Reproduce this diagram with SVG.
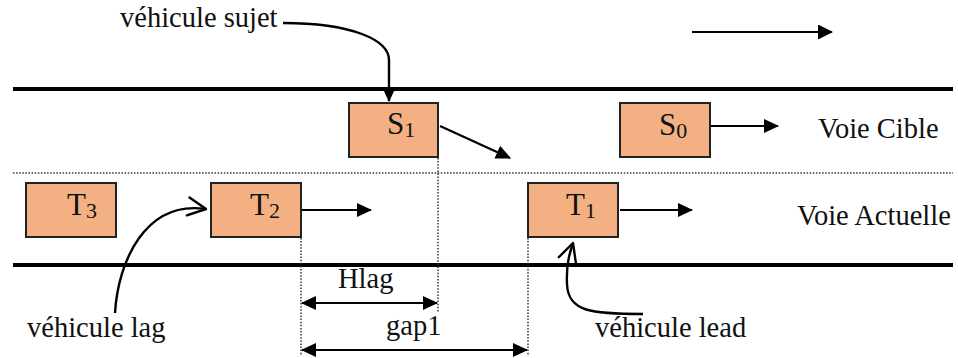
<svg xmlns="http://www.w3.org/2000/svg" width="958" height="358" viewBox="0 0 958 358">
  <style>
    text { font-family: "Liberation Serif", "Times New Roman", serif; fill: #111; }
    .lbl { font-size: 28.5px; }
    .veh { font-size: 31px; }
    .sub { font-size: 22px; }
    .box { fill: #F3B083; stroke: #222; stroke-width: 2; }
    .road { stroke: #000; stroke-width: 4; fill: none; }
    .dot { stroke: #333; stroke-width: 1.5; stroke-dasharray: 1.5 1.6; fill: none; }
    .arr { stroke: #000; stroke-width: 2.2; fill: none; }
    .curve { stroke: #000; stroke-width: 2.4; fill: none; }
  </style>
  <defs>
    <marker id="head" markerUnits="userSpaceOnUse" markerWidth="16" markerHeight="14" refX="14" refY="7" orient="auto-start-reverse">
      <path d="M0,0 L15,7 L0,14 z" fill="#000"/>
    </marker>
    <marker id="headBig" markerUnits="userSpaceOnUse" markerWidth="16" markerHeight="16" refX="14" refY="7.5" orient="auto">
      <path d="M0,0 L15,7.5 L0,15 z" fill="#000"/>
    </marker>
    <marker id="headDown" markerUnits="userSpaceOnUse" markerWidth="16" markerHeight="14" refX="13" refY="6.5" orient="auto">
      <path d="M0,0 L14,6.5 L0,13 z" fill="#000"/>
    </marker>
    <marker id="open" markerUnits="userSpaceOnUse" markerWidth="24" markerHeight="24" refX="20" refY="11" orient="auto">
      <path d="M2,2 L20,11 L2,20" fill="none" stroke="#000" stroke-width="2.4" stroke-linecap="round" stroke-linejoin="round"/>
    </marker>
  </defs>

  <!-- road edges and lane separator -->
  <line class="road" x1="13" y1="89" x2="953" y2="89"/>
  <line class="dot" x1="13" y1="173" x2="953" y2="173"/>
  <line class="road" x1="13" y1="265" x2="953" y2="265"/>

  <!-- vertical reference lines for gaps -->
  <g id="guides">
    <line class="dot" x1="438" y1="158" x2="438" y2="312"/>
    <line class="dot" x1="301" y1="238" x2="301" y2="356"/>
    <line class="dot" x1="528" y1="238" x2="528" y2="356"/>
  </g>

  <!-- lane names -->
  <text class="lbl" x="818" y="138" font-size="28">Voie Cible</text>
  <text class="lbl" x="797" y="225" font-size="28">Voie Actuelle</text>

  <!-- vehicles -->
  <g id="s1">
    <rect class="box" x="349" y="103" width="89" height="54"/>
    <text class="veh" x="387" y="134">S<tspan class="sub" dy="3">1</tspan></text>
  </g>
  <g id="s0">
    <rect class="box" x="620" y="103" width="90" height="54"/>
    <text class="veh" x="659" y="135">S<tspan class="sub" dy="3">0</tspan></text>
  </g>
  <g id="t3">
    <rect class="box" x="26" y="183" width="90" height="54"/>
    <text class="veh" x="67" y="215">T<tspan class="sub" dy="3">3</tspan></text>
  </g>
  <g id="t2">
    <rect class="box" x="211" y="183" width="90" height="54"/>
    <text class="veh" x="250" y="215">T<tspan class="sub" dy="3">2</tspan></text>
  </g>
  <g id="t1">
    <rect class="box" x="528" y="183" width="90" height="54"/>
    <text class="veh" x="566" y="215">T<tspan class="sub" dy="3">1</tspan></text>
  </g>

  <!-- annotations -->
  <g id="annotations">
    <text class="lbl" x="120" y="27">véhicule sujet</text>
    <text class="lbl" x="27" y="337">véhicule lag</text>
    <text class="lbl" x="595" y="337">véhicule lead</text>
    <text class="lbl" x="338" y="288">Hlag</text>
    <text class="lbl" x="386" y="335">gap1</text>
  </g>

  <!-- connectors -->
  <g id="connectors">
    <!-- direction of travel -->
    <line class="arr" x1="692" y1="32" x2="832" y2="32" stroke-width="3.5" marker-end="url(#headBig)"/>
    <!-- vehicle motion -->
    <line class="arr" x1="711" y1="126" x2="778" y2="126" marker-end="url(#head)"/>
    <line class="arr" x1="440" y1="126" x2="510" y2="158" marker-end="url(#head)"/>
    <line class="arr" x1="302" y1="210" x2="371" y2="210" marker-end="url(#head)"/>
    <line class="arr" x1="620" y1="210" x2="692" y2="210" marker-end="url(#head)"/>
    <!-- gap measures -->
    <line class="arr" x1="302" y1="303" x2="437" y2="303" marker-start="url(#head)" marker-end="url(#head)"/>
    <line class="arr" x1="302" y1="350" x2="527" y2="350" marker-start="url(#head)" marker-end="url(#head)"/>
    <!-- callouts -->
    <path class="curve" d="M283,23 C352,23 389,40 389,60 L389,101" marker-end="url(#headDown)"/>
    <path class="curve" d="M115,313 C118,262 145,200 206,209" marker-end="url(#open)"/>
    <path class="curve" d="M643,314 C592,314 568,312 567,284 C566,264 570,252 573,243" marker-end="url(#open)"/>
  </g>
</svg>
